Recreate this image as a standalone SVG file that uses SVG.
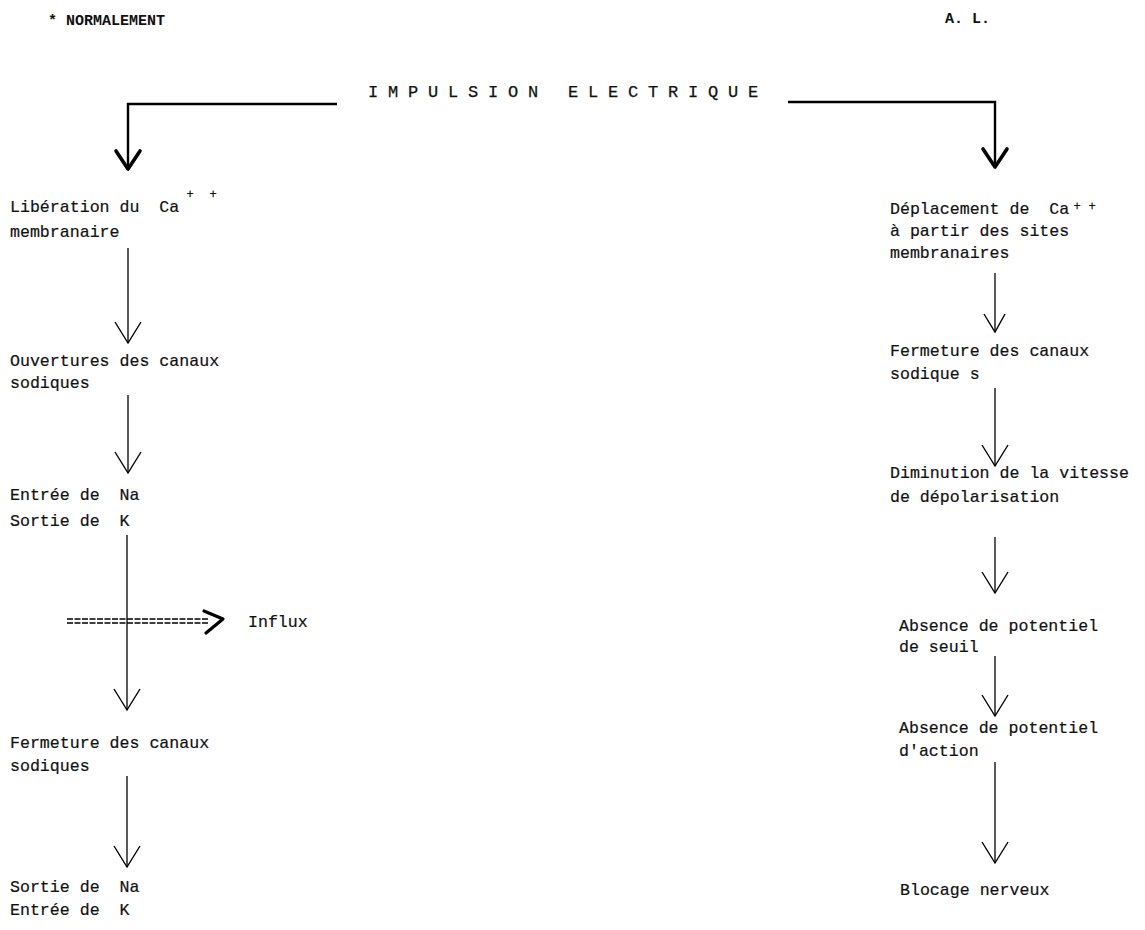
<svg xmlns="http://www.w3.org/2000/svg" width="1145" height="930" viewBox="0 0 1145 930">
  <defs>
    <style>
      .t { font-family: "Liberation Mono", "DejaVu Sans Mono", monospace; font-size: 16.6px; fill: #111; stroke: #111; stroke-width: 0.2px; }
      .hdr { font-family: "Liberation Mono", monospace; font-size: 15px; fill: #111; font-weight: bold; }
      .title { font-family: "Liberation Mono", monospace; font-size: 17px; fill: #111; stroke: #111; stroke-width: 0.25px; letter-spacing: 9.8px; }
      .sup { font-family: "Liberation Mono", monospace; font-size: 12px; fill: #111; stroke: #111; stroke-width: 0.25px; text-anchor: middle; }
      .ln { stroke: #000; stroke-width: 1.3; fill: none; }
      .lnb { stroke: #000; stroke-width: 2.4; fill: none; }
      .dash { stroke: #000; stroke-width: 1.6; fill: none; stroke-dasharray: 6 1.5; }
    </style>
    <marker id="ah" markerUnits="userSpaceOnUse" orient="auto" markerWidth="40" markerHeight="40" viewBox="-30 -20 40 40" refX="0" refY="0" overflow="visible">
      <path d="M-21,-13 L0,0 L-21,13" fill="none" stroke="#000" stroke-width="1.4"/>
    </marker>
    <marker id="ahs" markerUnits="userSpaceOnUse" orient="auto" markerWidth="40" markerHeight="40" viewBox="-30 -20 40 40" refX="0" refY="0" overflow="visible">
      <path d="M-18,-10 L0,0 L-18,11" fill="none" stroke="#000" stroke-width="1.4"/>
    </marker>
    <marker id="ahb" markerUnits="userSpaceOnUse" orient="auto" markerWidth="40" markerHeight="40" viewBox="-30 -20 40 40" refX="0" refY="0" overflow="visible">
      <path d="M-18,-12 L0,0 L-18,12" fill="none" stroke="#000" stroke-width="3.6" stroke-linecap="round" stroke-linejoin="round"/>
    </marker>
  </defs>
  <rect width="1145" height="930" fill="#fff"/>

  <g id="header">
    <text class="hdr" x="48" y="25">* NORMALEMENT</text>
    <text class="hdr" x="945" y="23">A. L.</text>
  </g>

  <g id="title">
    <text class="title" x="368" y="97">IMPULSION ELECTRIQUE</text>
  </g>

  <g id="connectors">
    <!-- top branches -->
    <polyline class="lnb" points="337,104 128,104 128,169" marker-end="url(#ahb)"/>
    <polyline class="lnb" points="788,102 995,102 995,167" marker-end="url(#ahb)"/>
    <!-- left column -->
    <line class="ln" x1="128" y1="248" x2="128" y2="343" marker-end="url(#ah)"/>
    <line class="ln" x1="128" y1="395" x2="128" y2="473" marker-end="url(#ah)"/>
    <line class="ln" x1="127" y1="535" x2="127" y2="710" marker-end="url(#ah)"/>
    <line class="ln" x1="127" y1="776" x2="127" y2="867" marker-end="url(#ah)"/>
    <!-- influx -->
    <line class="dash" x1="67" y1="619" x2="208" y2="619"/>
    <line class="dash" x1="67" y1="623" x2="208" y2="623"/>
    <polyline points="204,611 223,619 206,633" fill="none" stroke="#000" stroke-width="3.2" stroke-linecap="round" stroke-linejoin="round"/>
    <!-- right column -->
    <line class="ln" x1="995" y1="273" x2="995" y2="332" marker-end="url(#ahs)"/>
    <line class="ln" x1="995" y1="388" x2="995" y2="466" marker-end="url(#ah)"/>
    <line class="ln" x1="995" y1="537" x2="995" y2="593" marker-end="url(#ah)"/>
    <line class="ln" x1="995" y1="656" x2="995" y2="716" marker-end="url(#ah)"/>
    <line class="ln" x1="995" y1="762" x2="995" y2="863" marker-end="url(#ah)"/>
  </g>

  <!-- left column nodes -->
  <g id="n-liberation">
    <text class="t" x="10" y="212" xml:space="preserve">Libération du  Ca</text>
    <text class="sup" x="190" y="198">+</text>
    <text class="sup" x="213" y="198">+</text>
    <text class="t" x="10" y="237">membranaire</text>
  </g>
  <g id="n-ouvertures">
    <text class="t" x="10" y="366">Ouvertures des canaux</text>
    <text class="t" x="10" y="388">sodiques</text>
  </g>
  <g id="n-entree-na">
    <text class="t" x="10" y="500" xml:space="preserve">Entrée de  Na</text>
    <text class="t" x="10" y="526" xml:space="preserve">Sortie de  K</text>
  </g>
  <g id="n-influx">
    <text class="t" x="248" y="627">Influx</text>
  </g>
  <g id="n-fermeture-left">
    <text class="t" x="10" y="748">Fermeture des canaux</text>
    <text class="t" x="10" y="771">sodiques</text>
  </g>
  <g id="n-sortie-na">
    <text class="t" x="10" y="892" xml:space="preserve">Sortie de  Na</text>
    <text class="t" x="10" y="915" xml:space="preserve">Entrée de  K</text>
  </g>

  <!-- right column nodes -->
  <g id="n-deplacement">
    <text class="t" x="890" y="214" xml:space="preserve">Déplacement de  Ca</text>
    <text class="sup" x="1077" y="210">+</text>
    <text class="sup" x="1092" y="210">+</text>
    <text class="t" x="890" y="236">à partir des sites</text>
    <text class="t" x="890" y="258">membranaires</text>
  </g>
  <g id="n-fermeture-right">
    <text class="t" x="890" y="356">Fermeture des canaux</text>
    <text class="t" x="890" y="379">sodique s</text>
  </g>
  <g id="n-diminution">
    <text class="t" x="890" y="478">Diminution de la vitesse</text>
    <text class="t" x="890" y="502">de dépolarisation</text>
  </g>
  <g id="n-absence-seuil">
    <text class="t" x="899" y="631">Absence de potentiel</text>
    <text class="t" x="899" y="652">de seuil</text>
  </g>
  <g id="n-absence-action">
    <text class="t" x="899" y="733">Absence de potentiel</text>
    <text class="t" x="899" y="756">d'action</text>
  </g>
  <g id="n-blocage">
    <text class="t" x="900" y="895">Blocage nerveux</text>
  </g>
</svg>
